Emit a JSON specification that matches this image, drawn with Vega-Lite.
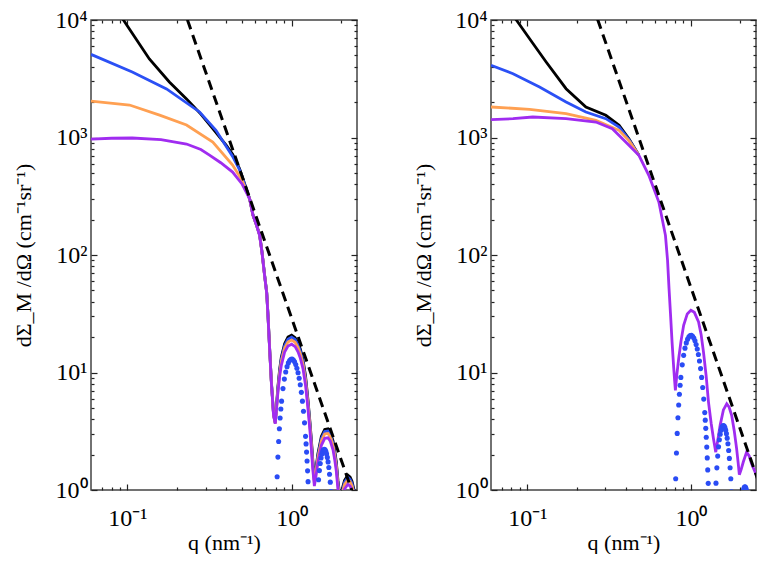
{
  "$schema": "https://vega.github.io/schema/vega-lite/v6.json",
  "background": "white",
  "padding": {"left": 11, "top": 7, "right": 0, "bottom": 0},
  "spacing": 52,
  "config": {
    "view": {"stroke": "#444", "strokeWidth": 1.5},
    "axis": {
      "labelFont": "Liberation Serif", "titleFont": "Liberation Serif",
      "labelFontSize": 24, "titleFontSize": 22, "labelColor": "black", "titleColor": "black",
      "titleFontWeight": "normal", "domain": false, "grid": false, "ticks": true, "tickColor": "#222", "tickWidth": 1.2,
      "labelOverlap": false, "labelFlush": false, "zindex": 2
    }
  },
  "datasets": {
    "lines": [
      {"p":"L","s":"black","q":0.06,"I":26000},{"p":"L","s":"black","q":0.0945,"I":10000},{"p":"L","s":"black","q":0.136,"I":4660},{"p":"L","s":"black","q":0.18,"I":2970},{"p":"L","s":"black","q":0.229,"I":2130},{"p":"L","s":"black","q":0.28,"I":1580},{"p":"L","s":"black","q":0.331,"I":1188},{"p":"L","s":"black","q":0.4,"I":858},{"p":"L","s":"black","q":0.437,"I":720},{"p":"L","s":"black","q":0.482,"I":543},{"p":"L","s":"black","q":0.555,"I":300},{"p":"L","s":"black","q":0.581,"I":220},{"p":"L","s":"black","q":0.61,"I":182},{"p":"L","s":"black","q":0.638,"I":149},{"p":"L","s":"black","q":0.66,"I":106},{"p":"L","s":"black","q":0.684,"I":68},{"p":"L","s":"black","q":0.705,"I":48},{"p":"L","s":"black","q":0.717,"I":31.5},{"p":"L","s":"black","q":0.734,"I":16.3},{"p":"L","s":"black","q":0.752,"I":8.5},{"p":"L","s":"black","q":0.776,"I":4.4},{"p":"L","s":"black","q":0.795,"I":3.75},{"p":"L","s":"black","q":0.81,"I":5.4},{"p":"L","s":"black","q":0.825,"I":7.6},{"p":"L","s":"black","q":0.845,"I":10.6},{"p":"L","s":"black","q":0.865,"I":13.5},{"p":"L","s":"black","q":0.906,"I":17.6},{"p":"L","s":"black","q":0.95,"I":20},{"p":"L","s":"black","q":1.0,"I":20.8},{"p":"L","s":"black","q":1.05,"I":19.8},{"p":"L","s":"black","q":1.093,"I":17.9},{"p":"L","s":"black","q":1.13,"I":15.8},{"p":"L","s":"black","q":1.172,"I":12.9},{"p":"L","s":"black","q":1.215,"I":9.3},{"p":"L","s":"black","q":1.257,"I":5.85},{"p":"L","s":"black","q":1.29,"I":3.9},{"p":"L","s":"black","q":1.318,"I":2.7},{"p":"L","s":"black","q":1.345,"I":1.8},{"p":"L","s":"black","q":1.375,"I":1.25},{"p":"L","s":"black","q":1.4,"I":1.45},{"p":"L","s":"black","q":1.446,"I":2.05},{"p":"L","s":"black","q":1.517,"I":2.85},{"p":"L","s":"black","q":1.59,"I":3.28},{"p":"L","s":"black","q":1.664,"I":3.32},{"p":"L","s":"black","q":1.72,"I":3.1},{"p":"L","s":"black","q":1.786,"I":2.62},{"p":"L","s":"black","q":1.83,"I":2.15},{"p":"L","s":"black","q":1.87,"I":1.73},{"p":"L","s":"black","q":1.915,"I":1.2},{"p":"L","s":"black","q":1.97,"I":0.86},{"p":"L","s":"black","q":2.0,"I":0.9},{"p":"L","s":"black","q":2.05,"I":1.07},{"p":"L","s":"black","q":2.1,"I":1.21},{"p":"L","s":"black","q":2.2,"I":1.34},{"p":"L","s":"black","q":2.27,"I":1.29},{"p":"L","s":"black","q":2.33,"I":1.19},{"p":"L","s":"black","q":2.42,"I":0.95},{"p":"L","s":"black","q":2.5,"I":0.8},

      {"p":"L","s":"blue","q":0.06,"I":5100},{"p":"L","s":"blue","q":0.107,"I":3610},{"p":"L","s":"blue","q":0.173,"I":2590},{"p":"L","s":"blue","q":0.275,"I":1650},{"p":"L","s":"blue","q":0.346,"I":1151},{"p":"L","s":"blue","q":0.437,"I":690},{"p":"L","s":"blue","q":0.482,"I":530},{"p":"L","s":"blue","q":0.555,"I":300},{"p":"L","s":"blue","q":0.581,"I":219},{"p":"L","s":"blue","q":0.61,"I":181},{"p":"L","s":"blue","q":0.638,"I":148},{"p":"L","s":"blue","q":0.66,"I":105.5},{"p":"L","s":"blue","q":0.684,"I":67.5},{"p":"L","s":"blue","q":0.705,"I":47.5},{"p":"L","s":"blue","q":0.717,"I":31.2},{"p":"L","s":"blue","q":0.734,"I":16.2},{"p":"L","s":"blue","q":0.752,"I":8.4},{"p":"L","s":"blue","q":0.776,"I":4.35},{"p":"L","s":"blue","q":0.795,"I":3.7},{"p":"L","s":"blue","q":0.81,"I":5.25},{"p":"L","s":"blue","q":0.825,"I":7.3},{"p":"L","s":"blue","q":0.845,"I":10.2},{"p":"L","s":"blue","q":0.865,"I":13.0},{"p":"L","s":"blue","q":0.906,"I":16.9},{"p":"L","s":"blue","q":0.95,"I":19.2},{"p":"L","s":"blue","q":1.0,"I":20.0},{"p":"L","s":"blue","q":1.05,"I":19.1},{"p":"L","s":"blue","q":1.093,"I":17.2},{"p":"L","s":"blue","q":1.13,"I":15.2},{"p":"L","s":"blue","q":1.172,"I":12.4},{"p":"L","s":"blue","q":1.215,"I":8.9},{"p":"L","s":"blue","q":1.257,"I":5.6},{"p":"L","s":"blue","q":1.29,"I":3.75},{"p":"L","s":"blue","q":1.318,"I":2.57},{"p":"L","s":"blue","q":1.345,"I":1.7},{"p":"L","s":"blue","q":1.375,"I":1.2},{"p":"L","s":"blue","q":1.4,"I":1.4},{"p":"L","s":"blue","q":1.446,"I":1.97},{"p":"L","s":"blue","q":1.517,"I":2.74},{"p":"L","s":"blue","q":1.59,"I":3.14},{"p":"L","s":"blue","q":1.664,"I":3.17},{"p":"L","s":"blue","q":1.72,"I":2.96},{"p":"L","s":"blue","q":1.786,"I":2.5},{"p":"L","s":"blue","q":1.83,"I":2.05},{"p":"L","s":"blue","q":1.87,"I":1.65},{"p":"L","s":"blue","q":1.915,"I":1.14},{"p":"L","s":"blue","q":1.97,"I":0.82},{"p":"L","s":"blue","q":2.0,"I":0.86},{"p":"L","s":"blue","q":2.05,"I":1.02},{"p":"L","s":"blue","q":2.1,"I":1.16},{"p":"L","s":"blue","q":2.2,"I":1.28},{"p":"L","s":"blue","q":2.27,"I":1.23},{"p":"L","s":"blue","q":2.33,"I":1.14},{"p":"L","s":"blue","q":2.42,"I":0.91},{"p":"L","s":"blue","q":2.5,"I":0.77},

      {"p":"L","s":"orange","q":0.06,"I":2040},{"p":"L","s":"orange","q":0.103,"I":1890},{"p":"L","s":"orange","q":0.157,"I":1550},{"p":"L","s":"orange","q":0.229,"I":1277},{"p":"L","s":"orange","q":0.331,"I":913},{"p":"L","s":"orange","q":0.437,"I":583},{"p":"L","s":"orange","q":0.5,"I":430},{"p":"L","s":"orange","q":0.555,"I":300},{"p":"L","s":"orange","q":0.581,"I":218.5},{"p":"L","s":"orange","q":0.61,"I":180.5},{"p":"L","s":"orange","q":0.638,"I":147.5},{"p":"L","s":"orange","q":0.66,"I":105},{"p":"L","s":"orange","q":0.684,"I":67},{"p":"L","s":"orange","q":0.705,"I":47.2},{"p":"L","s":"orange","q":0.717,"I":31},{"p":"L","s":"orange","q":0.734,"I":16.1},{"p":"L","s":"orange","q":0.752,"I":8.35},{"p":"L","s":"orange","q":0.776,"I":4.32},{"p":"L","s":"orange","q":0.795,"I":3.68},{"p":"L","s":"orange","q":0.81,"I":5.1},{"p":"L","s":"orange","q":0.825,"I":7.05},{"p":"L","s":"orange","q":0.845,"I":9.8},{"p":"L","s":"orange","q":0.865,"I":12.4},{"p":"L","s":"orange","q":0.906,"I":16.1},{"p":"L","s":"orange","q":0.95,"I":18.2},{"p":"L","s":"orange","q":1.0,"I":18.9},{"p":"L","s":"orange","q":1.05,"I":18.1},{"p":"L","s":"orange","q":1.093,"I":16.3},{"p":"L","s":"orange","q":1.13,"I":14.4},{"p":"L","s":"orange","q":1.172,"I":11.8},{"p":"L","s":"orange","q":1.215,"I":8.5},{"p":"L","s":"orange","q":1.257,"I":5.35},{"p":"L","s":"orange","q":1.29,"I":3.6},{"p":"L","s":"orange","q":1.318,"I":2.45},{"p":"L","s":"orange","q":1.345,"I":1.63},{"p":"L","s":"orange","q":1.375,"I":1.15},{"p":"L","s":"orange","q":1.4,"I":1.35},{"p":"L","s":"orange","q":1.446,"I":1.88},{"p":"L","s":"orange","q":1.517,"I":2.62},{"p":"L","s":"orange","q":1.59,"I":3.0},{"p":"L","s":"orange","q":1.664,"I":3.03},{"p":"L","s":"orange","q":1.72,"I":2.83},{"p":"L","s":"orange","q":1.786,"I":2.4},{"p":"L","s":"orange","q":1.83,"I":1.96},{"p":"L","s":"orange","q":1.87,"I":1.58},{"p":"L","s":"orange","q":1.915,"I":1.09},{"p":"L","s":"orange","q":1.97,"I":0.78},{"p":"L","s":"orange","q":2.0,"I":0.82},{"p":"L","s":"orange","q":2.05,"I":0.98},{"p":"L","s":"orange","q":2.1,"I":1.11},{"p":"L","s":"orange","q":2.2,"I":1.22},{"p":"L","s":"orange","q":2.27,"I":1.18},{"p":"L","s":"orange","q":2.33,"I":1.09},{"p":"L","s":"orange","q":2.42,"I":0.87},{"p":"L","s":"orange","q":2.5,"I":0.74},

      {"p":"L","s":"purple","q":0.06,"I":970},{"p":"L","s":"purple","q":0.08,"I":985},{"p":"L","s":"purple","q":0.107,"I":990},{"p":"L","s":"purple","q":0.16,"I":960},{"p":"L","s":"purple","q":0.229,"I":880},{"p":"L","s":"purple","q":0.28,"I":790},{"p":"L","s":"purple","q":0.316,"I":709},{"p":"L","s":"purple","q":0.37,"I":610},{"p":"L","s":"purple","q":0.437,"I":508},{"p":"L","s":"purple","q":0.5,"I":400},{"p":"L","s":"purple","q":0.555,"I":300},{"p":"L","s":"purple","q":0.581,"I":218},{"p":"L","s":"purple","q":0.61,"I":180},{"p":"L","s":"purple","q":0.638,"I":147},{"p":"L","s":"purple","q":0.66,"I":105},{"p":"L","s":"purple","q":0.684,"I":67},{"p":"L","s":"purple","q":0.705,"I":47},{"p":"L","s":"purple","q":0.717,"I":31},{"p":"L","s":"purple","q":0.734,"I":16},{"p":"L","s":"purple","q":0.752,"I":8.3},{"p":"L","s":"purple","q":0.776,"I":4.3},{"p":"L","s":"purple","q":0.795,"I":3.67},{"p":"L","s":"purple","q":0.81,"I":5.0},{"p":"L","s":"purple","q":0.825,"I":6.8},{"p":"L","s":"purple","q":0.845,"I":9.3},{"p":"L","s":"purple","q":0.865,"I":11.5},{"p":"L","s":"purple","q":0.906,"I":14.9},{"p":"L","s":"purple","q":0.95,"I":16.8},{"p":"L","s":"purple","q":1.0,"I":17.4},{"p":"L","s":"purple","q":1.05,"I":16.6},{"p":"L","s":"purple","q":1.093,"I":15.0},{"p":"L","s":"purple","q":1.13,"I":13.2},{"p":"L","s":"purple","q":1.172,"I":10.8},{"p":"L","s":"purple","q":1.215,"I":7.8},{"p":"L","s":"purple","q":1.257,"I":4.9},{"p":"L","s":"purple","q":1.29,"I":3.3},{"p":"L","s":"purple","q":1.318,"I":2.25},{"p":"L","s":"purple","q":1.345,"I":1.5},{"p":"L","s":"purple","q":1.375,"I":1.08},{"p":"L","s":"purple","q":1.4,"I":1.25},{"p":"L","s":"purple","q":1.446,"I":1.73},{"p":"L","s":"purple","q":1.517,"I":2.4},{"p":"L","s":"purple","q":1.59,"I":2.75},{"p":"L","s":"purple","q":1.664,"I":2.78},{"p":"L","s":"purple","q":1.72,"I":2.6},{"p":"L","s":"purple","q":1.786,"I":2.2},{"p":"L","s":"purple","q":1.83,"I":1.8},{"p":"L","s":"purple","q":1.87,"I":1.45},{"p":"L","s":"purple","q":1.915,"I":1.0},{"p":"L","s":"purple","q":1.97,"I":0.72},{"p":"L","s":"purple","q":2.0,"I":0.76},{"p":"L","s":"purple","q":2.05,"I":0.9},{"p":"L","s":"purple","q":2.1,"I":1.02},{"p":"L","s":"purple","q":2.2,"I":1.12},{"p":"L","s":"purple","q":2.27,"I":1.08},{"p":"L","s":"purple","q":2.33,"I":1.0},{"p":"L","s":"purple","q":2.42,"I":0.8},{"p":"L","s":"purple","q":2.5,"I":0.68},

      {"p":"R","s":"black","q":0.06,"I":20000},{"p":"R","s":"black","q":0.0857,"I":10000},{"p":"R","s":"black","q":0.1033,"I":6930},{"p":"R","s":"black","q":0.1304,"I":4394},{"p":"R","s":"black","q":0.1726,"I":2602},{"p":"R","s":"black","q":0.2282,"I":1819},{"p":"R","s":"black","q":0.302,"I":1545},{"p":"R","s":"black","q":0.364,"I":1270},{"p":"R","s":"black","q":0.418,"I":977},{"p":"R","s":"black","q":0.481,"I":706},
      {"p":"R","s":"blue","q":0.06,"I":4115},{"p":"R","s":"blue","q":0.0818,"I":3490},{"p":"R","s":"blue","q":0.1188,"I":2692},{"p":"R","s":"blue","q":0.1726,"I":2005},{"p":"R","s":"blue","q":0.228,"I":1648},{"p":"R","s":"blue","q":0.302,"I":1446},{"p":"R","s":"blue","q":0.364,"I":1228},{"p":"R","s":"blue","q":0.418,"I":960},{"p":"R","s":"blue","q":0.481,"I":706},
      {"p":"R","s":"orange","q":0.06,"I":1818},{"p":"R","s":"orange","q":0.1033,"I":1738},{"p":"R","s":"orange","q":0.1726,"I":1595},{"p":"R","s":"orange","q":0.2626,"I":1400},{"p":"R","s":"orange","q":0.364,"I":1151},{"p":"R","s":"orange","q":0.418,"I":940},{"p":"R","s":"orange","q":0.481,"I":706},
      {"p":"R","s":"purple","q":0.06,"I":1418},{"p":"R","s":"purple","q":0.0818,"I":1446},{"p":"R","s":"purple","q":0.108,"I":1494},{"p":"R","s":"purple","q":0.1726,"I":1446},{"p":"R","s":"purple","q":0.2626,"I":1355},{"p":"R","s":"purple","q":0.331,"I":1188},{"p":"R","s":"purple","q":0.3995,"I":916},{"p":"R","s":"purple","q":0.481,"I":706},{"p":"R","s":"purple","q":0.553,"I":477},{"p":"R","s":"purple","q":0.637,"I":282},{"p":"R","s":"purple","q":0.699,"I":147},{"p":"R","s":"purple","q":0.72,"I":90},{"p":"R","s":"purple","q":0.735,"I":52},{"p":"R","s":"purple","q":0.75,"I":32},{"p":"R","s":"purple","q":0.767,"I":18.2},{"p":"R","s":"purple","q":0.785,"I":11},{"p":"R","s":"purple","q":0.796,"I":8.4},{"p":"R","s":"purple","q":0.804,"I":7.05},{"p":"R","s":"purple","q":0.82,"I":9.5},{"p":"R","s":"purple","q":0.842,"I":13.1},{"p":"R","s":"purple","q":0.87,"I":18.5},{"p":"R","s":"purple","q":0.903,"I":25.2},{"p":"R","s":"purple","q":0.95,"I":31.5},{"p":"R","s":"purple","q":1.0,"I":33.8},{"p":"R","s":"purple","q":1.05,"I":32.5},{"p":"R","s":"purple","q":1.114,"I":26.9},{"p":"R","s":"purple","q":1.155,"I":21},{"p":"R","s":"purple","q":1.194,"I":14.9},{"p":"R","s":"purple","q":1.24,"I":9.3},{"p":"R","s":"purple","q":1.281,"I":5.6},{"p":"R","s":"purple","q":1.33,"I":3.7},{"p":"R","s":"purple","q":1.374,"I":2.73},{"p":"R","s":"purple","q":1.419,"I":2.1},{"p":"R","s":"purple","q":1.46,"I":2.65},{"p":"R","s":"purple","q":1.509,"I":3.55},{"p":"R","s":"purple","q":1.58,"I":4.8},{"p":"R","s":"purple","q":1.656,"I":5.42},{"p":"R","s":"purple","q":1.71,"I":5.1},{"p":"R","s":"purple","q":1.775,"I":4.32},{"p":"R","s":"purple","q":1.84,"I":3.2},{"p":"R","s":"purple","q":1.903,"I":2.25},{"p":"R","s":"purple","q":1.945,"I":1.7},{"p":"R","s":"purple","q":1.977,"I":1.35},{"p":"R","s":"purple","q":2.03,"I":1.5},{"p":"R","s":"purple","q":2.09,"I":1.73},{"p":"R","s":"purple","q":2.19,"I":2.1},{"p":"R","s":"purple","q":2.27,"I":1.95},{"p":"R","s":"purple","q":2.35,"I":1.67},{"p":"R","s":"purple","q":2.5,"I":1.36}
    ],
    "fit": [
      {"p":"L","q":0.2,"I":18125},{"p":"L","q":2.6,"I":0.635},
      {"p":"R","q":0.2,"I":33125},{"p":"R","q":2.6,"I":1.16}
    ],
    "dots": [
      {"q":0.7986,"L":0.38,"R":0.605},{"q":0.8073,"L":0.78,"R":1.246},{"q":0.816,"L":1.297,"R":2.066},{"q":0.8247,"L":1.905,"R":3.033},{"q":0.8333,"L":2.586,"R":4.117},{"q":0.842,"L":3.322,"R":5.29},{"q":0.8507,"L":4.097,"R":6.524},{"q":0.8594,"L":4.895,"R":7.795},{"q":0.8681,"L":5.703,"R":9.082},{"q":0.8854,"L":7.296,"R":11.62},{"q":0.9028,"L":8.79,"R":14.0},{"q":0.9201,"L":10.11,"R":16.11},{"q":0.9375,"L":11.22,"R":17.87},{"q":0.9549,"L":12.07,"R":19.22},{"q":0.9722,"L":12.65,"R":20.15},{"q":0.9896,"L":12.96,"R":20.63},{"q":1.0069,"L":12.99,"R":20.69},{"q":1.0243,"L":12.78,"R":20.34},{"q":1.0417,"L":12.33,"R":19.64},{"q":1.059,"L":11.69,"R":18.62},{"q":1.0764,"L":10.88,"R":17.33},{"q":1.0938,"L":9.953,"R":15.85},{"q":1.1111,"L":8.934,"R":14.23},{"q":1.1285,"L":7.863,"R":12.52},{"q":1.1458,"L":6.777,"R":10.79},{"q":1.1632,"L":5.706,"R":9.087},{"q":1.1806,"L":4.681,"R":7.455},{"q":1.1979,"L":3.727,"R":5.935},{"q":1.2153,"L":2.861,"R":4.556},{"q":1.224,"L":2.468,"R":3.931},{"q":1.2326,"L":2.101,"R":3.346},{"q":1.2413,"L":1.765,"R":2.81},{"q":1.25,"L":1.456,"R":2.318},{"q":1.2587,"L":1.178,"R":1.876},{"q":1.2674,"L":0.932,"R":1.483},{"q":1.276,"L":0.715,"R":1.139},{"q":1.2847,"L":0.529,"R":0.842},
      {"q":1.4063,"L":0.482,"R":0.767},{"q":1.4236,"L":0.718,"R":1.144},{"q":1.441,"L":0.969,"R":1.543},{"q":1.4583,"L":1.221,"R":1.944},{"q":1.4757,"L":1.463,"R":2.33},{"q":1.4931,"L":1.682,"R":2.679},{"q":1.5104,"L":1.873,"R":2.982},{"q":1.5278,"L":2.025,"R":3.224},{"q":1.5451,"L":2.135,"R":3.4},{"q":1.5625,"L":2.201,"R":3.505},{"q":1.5799,"L":2.221,"R":3.537},{"q":1.5972,"L":2.197,"R":3.498},{"q":1.6146,"L":2.132,"R":3.394},{"q":1.6319,"L":2.029,"R":3.231},{"q":1.6493,"L":1.895,"R":3.017},{"q":1.6667,"L":1.734,"R":2.762},{"q":1.684,"L":1.555,"R":2.476},{"q":1.7014,"L":1.363,"R":2.171},{"q":1.7188,"L":1.166,"R":1.858},{"q":1.7361,"L":0.971,"R":1.546},{"q":1.7535,"L":0.783,"R":1.246},{"q":1.7708,"L":0.607,"R":0.967},{"q":1.7882,"L":0.459,"R":0.716},
      {"q":2.066,"L":0.552,"R":0.879},{"q":2.0833,"L":0.6,"R":0.956},{"q":2.1007,"L":0.637,"R":1.014},{"q":2.1181,"L":0.66,"R":1.051},{"q":2.1354,"L":0.67,"R":1.067},{"q":2.1528,"L":0.666,"R":1.061},{"q":2.1701,"L":0.65,"R":1.035},{"q":2.1875,"L":0.622,"R":0.99},{"q":2.2049,"L":0.583,"R":0.928}
    ]
  },
  "hconcat": [
    {
      "width": 266, "height": 470,
      "resolve": {"axis": {"x": "independent", "y": "independent"}},
      "layer": [
        {
          "data": {"name": "lines"},
          "transform": [{"filter": "datum.p == 'L'"}],
          "mark": {"type": "line", "clip": true, "strokeWidth": 2.8},
          "encoding": {
            "x": {"field": "q", "type": "quantitative", "scale": {"type": "log", "domain": [0.06, 2.5], "nice": false},
              "axis": {"orient": "bottom", "title": "q (nm⁻¹)", "titlePadding": 2, "values": [0.1, 1],
                "labelExpr": "datum.value == 0.1 ? '10⁻¹' : '10⁰'", "offset": -6, "tickSize": 6, "labelPadding": 16}},
            "y": {"field": "I", "type": "quantitative", "scale": {"type": "log", "domain": [1, 10000], "nice": false},
              "axis": {"orient": "left", "title": "dΣ_M /dΩ (cm⁻¹sr⁻¹)", "titlePadding": 19, "values": [1, 10, 100, 1000, 10000],
                "labelExpr": "datum.value == 1 ? '10⁰' : datum.value == 10 ? '10¹' : datum.value == 100 ? '10²' : datum.value == 1000 ? '10³' : '10⁴'",
                "offset": -6, "tickSize": 6, "labelPadding": 4}},
            "color": {"field": "s", "type": "nominal",
              "scale": {"domain": ["black", "blue", "orange", "purple"], "range": ["#000000", "#2b50f5", "#ffa052", "#a02cf0"]},
              "legend": null}
          }
        },
        {
          "data": {"name": "dots"},
          "mark": {"type": "circle", "clip": true, "size": 26, "color": "#2a4cf5", "opacity": 1},
          "encoding": {
            "x": {"field": "q", "type": "quantitative",
              "axis": {"orient": "bottom", "title": null, "labels": false, "offset": -3, "tickSize": 3,
                "values": [0.07,0.08,0.09,0.2,0.3,0.4,0.5,0.6,0.7,0.8,0.9,2]}},
            "y": {"field": "L", "type": "quantitative",
              "axis": {"orient": "left", "title": null, "labels": false, "offset": -3, "tickSize": 3,
                "values": [2,3,4,5,6,7,8,9,20,30,40,50,60,70,80,90,200,300,400,500,600,700,800,900,2000,3000,4000,5000,6000,7000,8000,9000]}}
          }
        },
        {
          "data": {"name": "fit"},
          "transform": [{"filter": "datum.p == 'L'"}],
          "mark": {"type": "line", "clip": true, "color": "black", "strokeWidth": 3, "strokeDash": [10, 6]},
          "encoding": {
            "x": {"field": "q", "type": "quantitative",
              "axis": {"orient": "top", "title": null, "labels": false, "offset": -6, "tickSize": 6, "values": [0.1, 1]}},
            "y": {"field": "I", "type": "quantitative",
              "axis": {"orient": "right", "title": null, "labels": false, "offset": -6, "tickSize": 6, "values": [1, 10, 100, 1000, 10000]}}
          }
        },
        {
          "data": {"name": "fit"},
          "transform": [{"filter": "datum.p == 'L'"}],
          "mark": {"type": "line", "clip": true, "opacity": 0},
          "encoding": {
            "x": {"field": "q", "type": "quantitative",
              "axis": {"orient": "top", "title": null, "labels": false, "offset": -3, "tickSize": 3,
                "values": [0.07,0.08,0.09,0.2,0.3,0.4,0.5,0.6,0.7,0.8,0.9,2]}},
            "y": {"field": "I", "type": "quantitative",
              "axis": {"orient": "right", "title": null, "labels": false, "offset": -3, "tickSize": 3,
                "values": [2,3,4,5,6,7,8,9,20,30,40,50,60,70,80,90,200,300,400,500,600,700,800,900,2000,3000,4000,5000,6000,7000,8000,9000]}}
          }
        }
      ]
    },
    {
      "width": 265, "height": 470,
      "resolve": {"axis": {"x": "independent", "y": "independent"}},
      "layer": [
        {
          "data": {"name": "lines"},
          "transform": [{"filter": "datum.p == 'R'"}],
          "mark": {"type": "line", "clip": true, "strokeWidth": 2.8},
          "encoding": {
            "x": {"field": "q", "type": "quantitative", "scale": {"type": "log", "domain": [0.06, 2.5], "nice": false},
              "axis": {"orient": "bottom", "title": "q (nm⁻¹)", "titlePadding": 2, "values": [0.1, 1],
                "labelExpr": "datum.value == 0.1 ? '10⁻¹' : '10⁰'", "offset": -6, "tickSize": 6, "labelPadding": 16}},
            "y": {"field": "I", "type": "quantitative", "scale": {"type": "log", "domain": [1, 10000], "nice": false},
              "axis": {"orient": "left", "title": "dΣ_M /dΩ (cm⁻¹sr⁻¹)", "titlePadding": 19, "values": [1, 10, 100, 1000, 10000],
                "labelExpr": "datum.value == 1 ? '10⁰' : datum.value == 10 ? '10¹' : datum.value == 100 ? '10²' : datum.value == 1000 ? '10³' : '10⁴'",
                "offset": -6, "tickSize": 6, "labelPadding": 4}},
            "color": {"field": "s", "type": "nominal",
              "scale": {"domain": ["black", "blue", "orange", "purple"], "range": ["#000000", "#2b50f5", "#ffa052", "#a02cf0"]},
              "legend": null}
          }
        },
        {
          "data": {"name": "dots"},
          "mark": {"type": "circle", "clip": true, "size": 26, "color": "#2a4cf5", "opacity": 1},
          "encoding": {
            "x": {"field": "q", "type": "quantitative",
              "axis": {"orient": "bottom", "title": null, "labels": false, "offset": -3, "tickSize": 3,
                "values": [0.07,0.08,0.09,0.2,0.3,0.4,0.5,0.6,0.7,0.8,0.9,2]}},
            "y": {"field": "R", "type": "quantitative",
              "axis": {"orient": "left", "title": null, "labels": false, "offset": -3, "tickSize": 3,
                "values": [2,3,4,5,6,7,8,9,20,30,40,50,60,70,80,90,200,300,400,500,600,700,800,900,2000,3000,4000,5000,6000,7000,8000,9000]}}
          }
        },
        {
          "data": {"name": "fit"},
          "transform": [{"filter": "datum.p == 'R'"}],
          "mark": {"type": "line", "clip": true, "color": "black", "strokeWidth": 3, "strokeDash": [10, 6]},
          "encoding": {
            "x": {"field": "q", "type": "quantitative",
              "axis": {"orient": "top", "title": null, "labels": false, "offset": -6, "tickSize": 6, "values": [0.1, 1]}},
            "y": {"field": "I", "type": "quantitative",
              "axis": {"orient": "right", "title": null, "labels": false, "offset": -6, "tickSize": 6, "values": [1, 10, 100, 1000, 10000]}}
          }
        },
        {
          "data": {"name": "fit"},
          "transform": [{"filter": "datum.p == 'R'"}],
          "mark": {"type": "line", "clip": true, "opacity": 0},
          "encoding": {
            "x": {"field": "q", "type": "quantitative",
              "axis": {"orient": "top", "title": null, "labels": false, "offset": -3, "tickSize": 3,
                "values": [0.07,0.08,0.09,0.2,0.3,0.4,0.5,0.6,0.7,0.8,0.9,2]}},
            "y": {"field": "I", "type": "quantitative",
              "axis": {"orient": "right", "title": null, "labels": false, "offset": -3, "tickSize": 3,
                "values": [2,3,4,5,6,7,8,9,20,30,40,50,60,70,80,90,200,300,400,500,600,700,800,900,2000,3000,4000,5000,6000,7000,8000,9000]}}
          }
        }
      ]
    }
  ]
}
